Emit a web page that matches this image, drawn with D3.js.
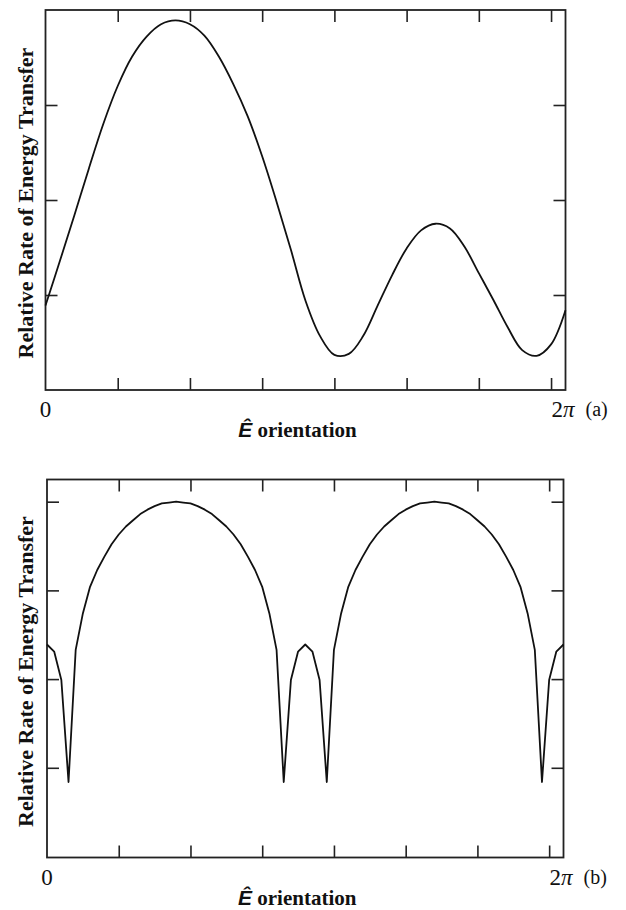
<!DOCTYPE html>
<html>
<head>
<meta charset="utf-8">
<script src="https://cdn.jsdelivr.net/npm/d3@7"></script>
<style>
  html, body { margin: 0; padding: 0; background: #fff; }
  svg { display: block; }
</style>
</head>
<body>
<svg id="chart" width="626" height="910"></svg>
<script>
// ---- Data ----
// Panel (a): orientation in degrees (0..360 = 0..2π), relative rate
const anglesA = [0,10,20,30,40,50,60,70,80,90,100,110,120,130,140,150,160,170,180,
                 190,200,210,220,230,240,250,260,270,280,290,300,310,320,330,340,350,360];
const valuesA = [0.89,1.36,1.84,2.33,2.80,3.20,3.51,3.72,3.85,3.89,3.85,3.73,3.51,3.22,2.88,2.46,1.98,1.47,0.94,
                 0.57,0.37,0.38,0.57,0.89,1.21,1.49,1.68,1.75,1.70,1.51,1.23,0.95,0.66,0.42,0.36,0.48,0.84];

// Panel (b): sampled every 5 degrees
const anglesB = [0,5,10,15,20,25,30,35,40,45,50,55,60,65,70,75,80,85,90,95,100,105,110,115,120,125,130,135,140,145,150,155,160,165,170,175,
                 180,185,190,195,200,205,210,215,220,225,230,235,240,245,250,255,260,265,270,275,280,285,290,295,300,305,310,315,320,325,330,335,340,345,350,355,360];
const valuesB = [2.39,2.31,1.99,0.84,2.33,2.74,3.04,3.23,3.38,3.52,3.63,3.72,3.79,3.86,3.91,3.95,3.98,3.99,4.00,3.99,3.98,3.95,3.91,3.86,3.79,3.72,3.63,3.52,3.38,3.23,3.04,2.74,2.33,0.84,1.99,2.31,
                 2.39,2.31,1.99,0.84,2.33,2.74,3.04,3.23,3.38,3.52,3.63,3.72,3.79,3.86,3.91,3.95,3.98,3.99,4.00,3.99,3.98,3.95,3.91,3.86,3.79,3.72,3.63,3.52,3.38,3.23,3.04,2.74,2.33,0.84,1.99,2.31,2.39];

const xTickValues = [50,100,150,200,250,300,350];
const yTicksA = [1,2,3];
const yTicksB = [1,2,3,4];
const xLabelStart = "0";
const xLabelEnd = "2";
const yTitle = "Relative Rate of Energy Transfer";
const xTitleSymbol = "Ê";
const xTitleText = " orientation";
const panelTags = ["(a)", "(b)"];

// ---- Drawing ----
const svg = d3.select("#chart");

const panels = [
  { angles: anglesA, values: valuesA, yTicks: yTicksA, yMax: 4,
    left: 45.5, right: 565.5, top: 10, bottom: 390, vZero: 390,
    curve: d3.curveCatmullRom.alpha(0.5), tag: panelTags[0] },
  { angles: anglesB, values: valuesB, yTicks: yTicksB, yMax: 4.25,
    left: 47, right: 563.5, top: 479.5, bottom: 857.5, vZero: 856.5,
    curve: d3.curveLinear, tag: panelTags[1] }
];

panels.forEach(p => {
  const g = svg.append("g");
  const x = d3.scaleLinear().domain([0, 360]).range([p.left, p.right]);
  const y = d3.scaleLinear().domain([0, p.yMax]).range([p.vZero, p.top]);

  const tick = 12;
  const styleAxis = sel => {
    sel.select(".domain").remove();
    sel.selectAll(".tick line").attr("stroke", "#222").attr("stroke-width", 1.6);
    sel.selectAll(".tick text").remove();
  };

  g.append("g").attr("transform", `translate(0,${p.bottom})`)
    .call(d3.axisTop(x).tickValues(xTickValues).tickSize(tick).tickFormat(""))
    .call(styleAxis);
  g.append("g").attr("transform", `translate(0,${p.top})`)
    .call(d3.axisBottom(x).tickValues(xTickValues).tickSize(tick).tickFormat(""))
    .call(styleAxis);
  g.append("g").attr("transform", `translate(${p.left},0)`)
    .call(d3.axisRight(y).tickValues(p.yTicks).tickSize(tick).tickFormat(""))
    .call(styleAxis);
  g.append("g").attr("transform", `translate(${p.right},0)`)
    .call(d3.axisLeft(y).tickValues(p.yTicks).tickSize(tick).tickFormat(""))
    .call(styleAxis);

  // frame
  g.append("rect")
    .attr("x", p.left).attr("y", p.top)
    .attr("width", p.right - p.left).attr("height", p.bottom - p.top)
    .attr("fill", "none").attr("stroke", "#222").attr("stroke-width", 1.8);

  // curve
  const pts = p.angles.map((a, i) => [a, p.values[i]]);
  g.append("path")
    .datum(pts)
    .attr("fill", "none")
    .attr("stroke", "#111")
    .attr("stroke-width", 1.8)
    .attr("stroke-linejoin", "round")
    .attr("d", d3.line().x(d => x(d[0])).y(d => y(d[1])).curve(p.curve));

  // y title
  const yMid = (p.top + p.bottom) / 2 + 3;
  g.append("text")
    .attr("transform", `translate(33,${yMid}) rotate(-90)`)
    .attr("text-anchor", "middle")
    .attr("font-family", "'Liberation Serif', 'Times New Roman', serif")
    .attr("font-weight", "bold")
    .attr("font-size", 22)
    .attr("fill", "#111")
    .text(yTitle);

  // x end labels
  g.append("text")
    .attr("x", x(0)).attr("y", p.bottom + 27)
    .attr("text-anchor", "middle")
    .attr("font-family", "'Liberation Serif', 'Times New Roman', serif")
    .attr("font-size", 23)
    .attr("fill", "#111")
    .text(xLabelStart);

  const endLab = g.append("text")
    .attr("x", x(360) - 14).attr("y", p.bottom + 27)
    .attr("font-family", "'Liberation Serif', 'Times New Roman', serif")
    .attr("font-size", 23)
    .attr("fill", "#111");
  endLab.append("tspan").text(xLabelEnd);
  endLab.append("tspan").attr("font-style", "italic").text("π");

  g.append("text")
    .attr("x", x(360) + 20).attr("y", p.bottom + 26)
    .attr("font-family", "'Liberation Serif', 'Times New Roman', serif")
    .attr("font-size", 20)
    .attr("fill", "#111")
    .text(p.tag);

  // x title
  const xt = g.append("text")
    .attr("x", (p.left + p.right) / 2 - 8).attr("y", p.bottom + 47)
    .attr("text-anchor", "middle")
    .attr("font-size", 21)
    .attr("font-weight", "bold")
    .attr("fill", "#111");
  xt.append("tspan")
    .attr("font-family", "'Liberation Sans', Arial, sans-serif")
    .attr("font-style", "italic")
    .text(xTitleSymbol);
  xt.append("tspan")
    .attr("font-family", "'Liberation Serif', 'Times New Roman', serif")
    .text(xTitleText);
});
</script>
</body>
</html>
